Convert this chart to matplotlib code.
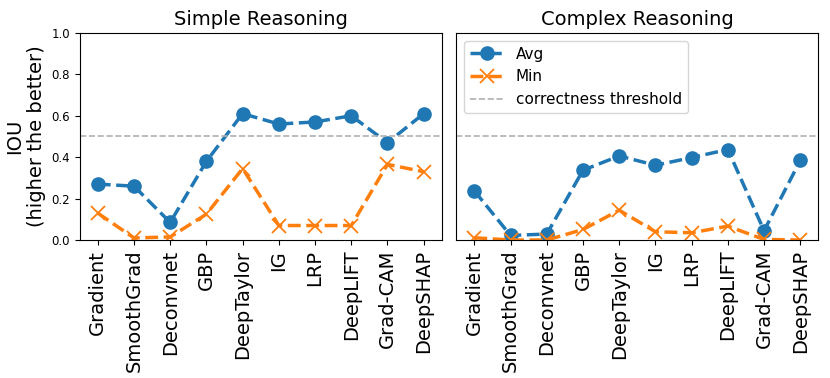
import matplotlib
matplotlib.use('Agg')
import matplotlib.pyplot as plt
import numpy as np

methods = ['Gradient', 'SmoothGrad', 'Deconvnet', 'GBP', 'DeepTaylor',
           'IG', 'LRP', 'DeepLIFT', 'Grad-CAM', 'DeepSHAP']

simple_avg = [0.27, 0.26, 0.085, 0.38, 0.61, 0.56, 0.57, 0.60, 0.47, 0.61]
simple_min = [0.13, 0.01, 0.015, 0.125, 0.345, 0.07, 0.07, 0.07, 0.365, 0.33]

complex_avg = [0.237, 0.022, 0.029, 0.337, 0.406, 0.361, 0.398, 0.437, 0.045, 0.384]
complex_min = [0.011, 0.0, 0.0, 0.051, 0.144, 0.040, 0.035, 0.067, 0.003, 0.0]

threshold = 0.5

fig, axes = plt.subplots(1, 2, figsize=(8.3, 3.78), dpi=100, sharey=True)
plt.subplots_adjust(left=0.096, right=0.986, top=0.913, bottom=0.365, wspace=0.04)

panels = [('Simple Reasoning', simple_avg, simple_min),
          ('Complex Reasoning', complex_avg, complex_min)]

x = np.arange(len(methods))
for ax, (title, avg, mn) in zip(axes, panels):
    ax.plot(x, avg, '--o', color='#1f77b4', lw=2.5, ms=9.5, label='Avg')
    ax.plot(x, mn, '--x', color='#ff7f0e', lw=2.5, ms=10, mew=1.3, label='Min')
    ax.axhline(threshold, ls='--', color='#b0b0b0', lw=1.2, label='correctness threshold')
    ax.set_title(title, fontsize=14)
    ax.set_xticks(x)
    ax.set_xticklabels(methods, rotation=90, fontsize=14)
    ax.set_ylim(0, 1.0)
    ax.set_xlim(-0.5, 9.5)
    ax.tick_params(axis='y', labelsize=8.5)

axes[0].set_ylabel('IOU\n(higher the better)', fontsize=14)
axes[1].tick_params(axis='y', left=False)
axes[1].legend(loc='upper left', fontsize=11, handlelength=2.2)

fig.savefig('out.png')
